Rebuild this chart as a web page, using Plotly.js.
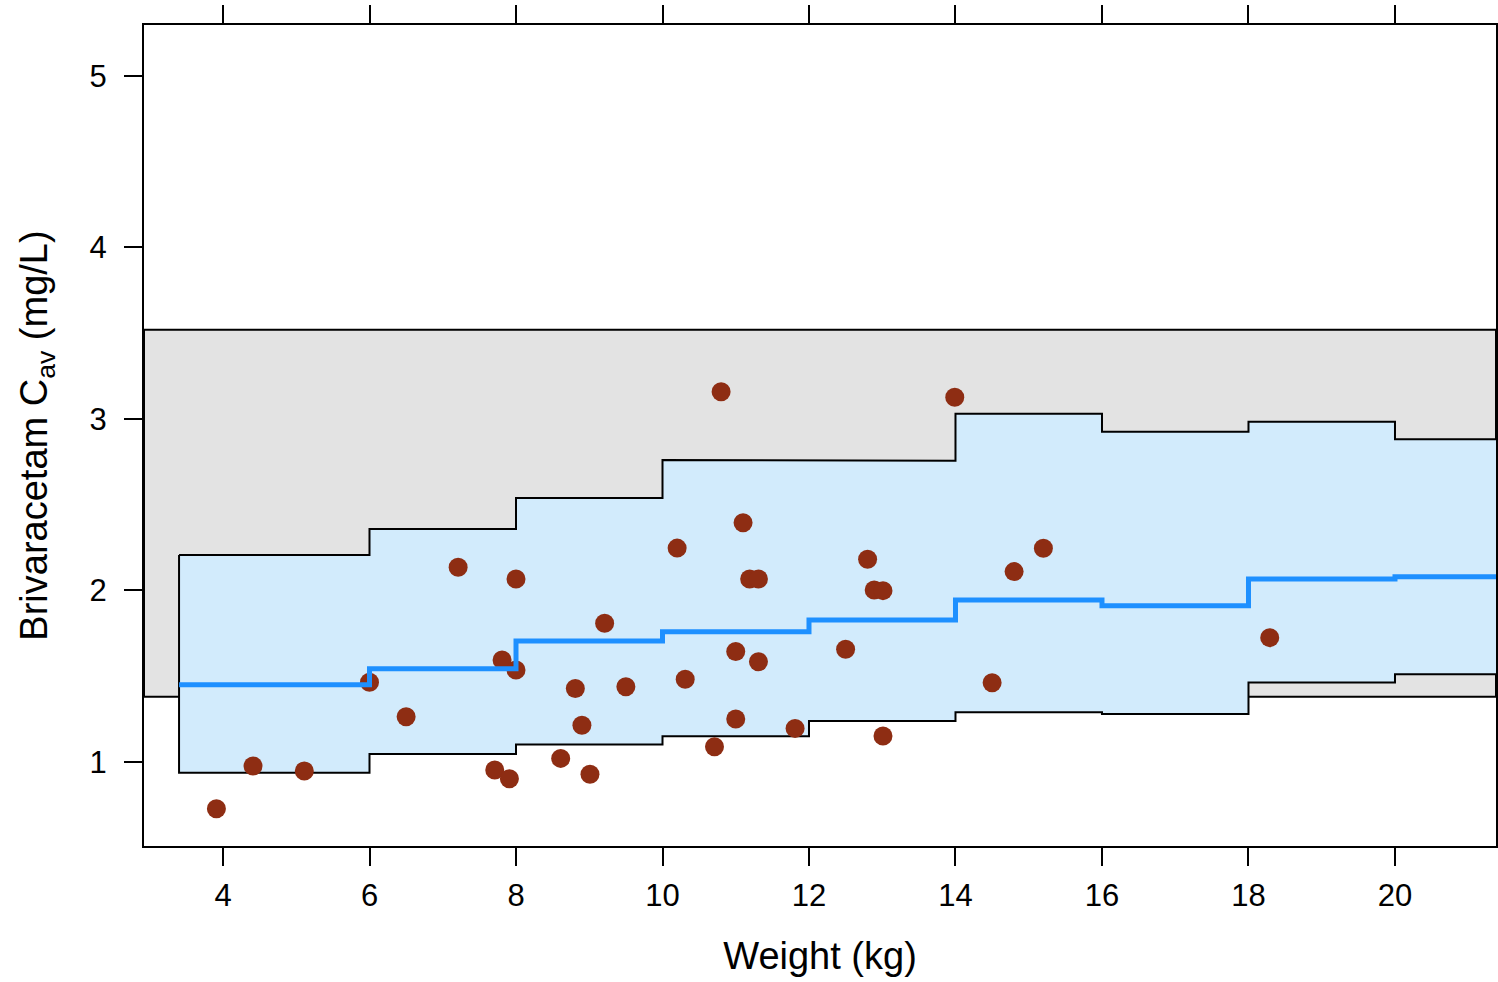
<!DOCTYPE html>
<html>
<head>
<meta charset="utf-8">
<script src="https://cdn.plot.ly/plotly-3.0.1.min.js"></script>
<style>html,body{margin:0;padding:0;background:#fff;}#chart{width:1498px;height:982px;}</style>
</head>
<body>
<div id="chart"></div>
<script>
// Bin edges of weight (kg) for the prediction steps
const binEdges = [3.4, 6, 8, 10, 12, 14, 16, 18, 20, 21.6];
// Prediction interval bounds and median per bin (mg/L)
const upperPI = [2.207, 2.359, 2.539, 2.761, 2.757, 3.031, 2.925, 2.984, 2.882];
const lowerPI = [0.937, 1.046, 1.102, 1.150, 1.239, 1.290, 1.280, 1.463, 1.511];
const medianPred = [1.451, 1.543, 1.706, 1.760, 1.828, 1.945, 1.911, 2.067, 2.080];
// Reference (adult) range band
const refLow = 1.38;
const refHigh = 3.52;
// Observed individual values
const obsWeight = [3.91, 4.41, 5.11, 6.00, 6.50, 7.21, 7.71, 7.81, 7.91, 8.00, 8.00, 8.61, 8.81, 8.90, 9.01, 9.21, 9.50,
  10.20, 10.31, 10.71, 10.80, 11.00, 11.00, 11.10, 11.19, 11.31, 11.31, 11.81, 12.50, 12.80, 12.89, 13.01, 13.01,
  13.99, 14.50, 14.80, 15.20, 18.29];
const obsCav = [0.727, 0.977, 0.948, 1.465, 1.264, 2.135, 0.953, 1.595, 0.902, 2.067, 1.536, 1.021, 1.428, 1.214, 0.928, 1.809, 1.439,
  2.247, 1.482, 1.089, 3.159, 1.644, 1.251, 2.395, 2.067, 2.067, 1.585, 1.196, 1.657, 2.182, 2.003, 1.999, 1.152,
  3.127, 1.462, 2.110, 2.246, 1.725];
const xTicks = [4, 6, 8, 10, 12, 14, 16, 18, 20];
const yTicks = [1, 2, 3, 4, 5];

// Build step polygon for the prediction interval
const ribX = [], ribY = [];
for (let i = 0; i < upperPI.length; i++) { ribX.push(binEdges[i], binEdges[i+1]); ribY.push(upperPI[i], upperPI[i]); }
for (let i = lowerPI.length - 1; i >= 0; i--) { ribX.push(binEdges[i+1], binEdges[i]); ribY.push(lowerPI[i], lowerPI[i]); }
ribX.push(binEdges[0]); ribY.push(upperPI[0]);

const medY = medianPred.concat([medianPred[medianPred.length - 1]]);

const font = 'Liberation Sans, Arial, sans-serif';
const traces = [
  {x: ribX, y: ribY, type: 'scatter', mode: 'lines', fill: 'toself', fillcolor: '#D2EBFC',
   line: {color: '#000000', width: 2}, hoverinfo: 'skip', showlegend: false},
  {x: obsWeight, y: obsCav, type: 'scatter', mode: 'markers',
   marker: {color: '#8E2D13', size: 19, line: {width: 0}}, showlegend: false},
  {x: binEdges, y: medY, type: 'scatter', mode: 'lines', line: {color: '#1E90FF', width: 5, shape: 'hv'},
   showlegend: false}
];

const layout = {
  width: 1498, height: 982,
  margin: {l: 144, r: 2, t: 25, b: 136},
  paper_bgcolor: '#ffffff', plot_bgcolor: '#ffffff',
  font: {family: font, color: '#000000'},
  showlegend: false,
  xaxis: {
    range: [2.9215, 21.379], tickvals: xTicks, ticktext: xTicks.map(String),
    ticks: 'outside', ticklen: 18, tickwidth: 2, tickcolor: '#000000',
    showline: true, linewidth: 2, linecolor: '#000000', mirror: 'ticks',
    showgrid: false, zeroline: false,
    tickfont: {family: font, size: 31, color: '#000000'},
    ticklabelstandoff: 3,
    title: {text: 'Weight (kg)', font: {family: font, size: 38, color: '#000000'}, standoff: 30}
  },
  yaxis: {
    range: [0.5102, 5.297], tickvals: yTicks, ticktext: yTicks.map(String),
    ticks: 'outside', ticklen: 18, tickwidth: 2, tickcolor: '#000000',
    showline: true, linewidth: 2, linecolor: '#000000', mirror: true,
    showgrid: false, zeroline: false,
    tickfont: {family: font, size: 31, color: '#000000'},
    ticklabelstandoff: 11,
    title: {text: 'Brivaracetam C<sub>av</sub> (mg/L)', font: {family: font, size: 38, color: '#000000'}, standoff: 30}
  },
  shapes: [
    {type: 'rect', xref: 'paper', yref: 'y', x0: 0, x1: 1, y0: refLow, y1: refHigh,
     fillcolor: '#E3E3E3', line: {color: '#000000', width: 2}, layer: 'below'}
  ]
};

Plotly.newPlot('chart', traces, layout, {displayModeBar: false, staticPlot: true});
</script>
</body>
</html>
